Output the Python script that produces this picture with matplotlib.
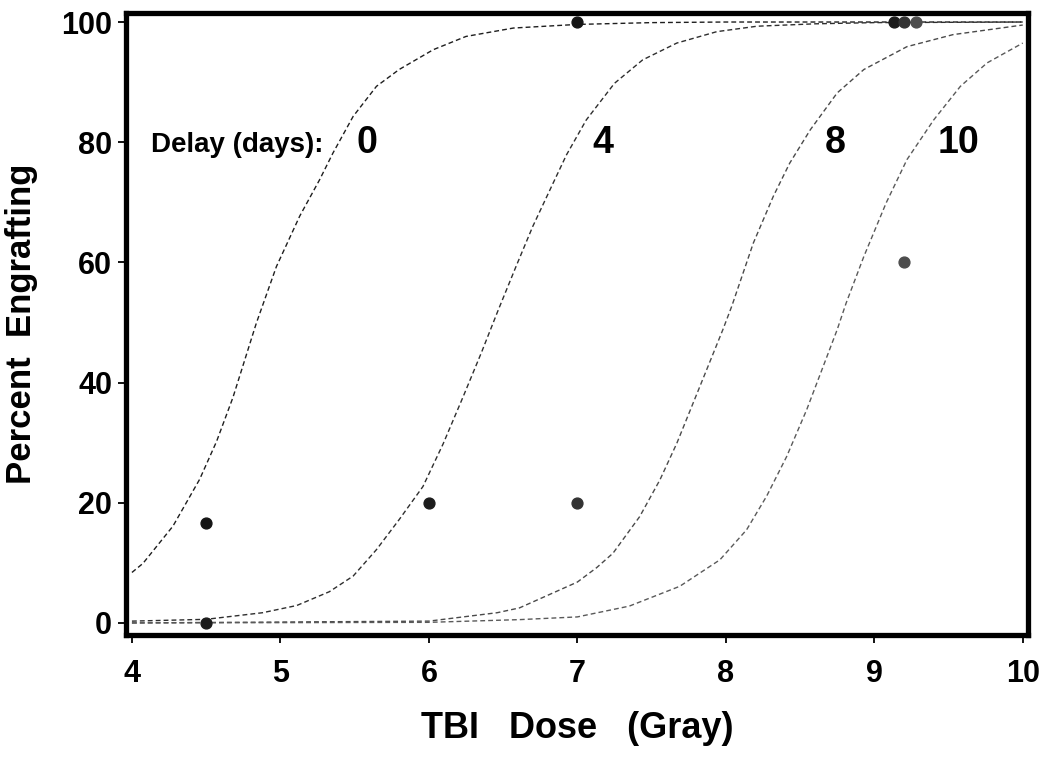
import matplotlib
matplotlib.use("Agg")
from matplotlib import pyplot as plt

plt.rcParams['font.family'] = ['Liberation Sans', 'DejaVu Sans']

# 拟合曲线，按图读出的点 (剂量, 百分比)
d0_x = [4.0, 4.074, 4.276, 4.456, 4.57, 4.68, 4.838, 4.973, 5.13, 5.265, 5.354, 5.49,
        5.647, 5.80, 6.03, 6.25, 6.57, 7.0, 7.5, 8.0, 10.0]
d0_y = [8.4, 9.9, 16.1, 23.9, 30.2, 37.5, 49.9, 59.3, 67.7, 73.8, 78.2, 84.3,
        89.3, 92.1, 95.4, 97.6, 99.0, 99.6, 99.9, 100, 100]

d4_x = [4.0, 4.5, 4.88, 5.11, 5.33, 5.49, 5.647, 5.80, 5.96, 6.096, 6.23, 6.354, 6.466,
        6.59, 6.70, 6.837, 6.927, 7.06, 7.25, 7.44, 7.67, 7.94, 8.21, 8.6, 9.0, 10.0]
d4_y = [0.3, 0.6, 1.7, 2.9, 5.2, 7.8, 12.2, 17.2, 22.7, 29.8, 37.6, 45.0, 52.0,
        59.5, 66.0, 73.2, 77.9, 83.7, 89.8, 93.7, 96.5, 98.4, 99.3, 99.7, 99.9, 100]

d8_x = [4.0, 6.0, 6.46, 6.61, 7.0, 7.13, 7.24, 7.42, 7.556, 7.67, 7.78, 7.89, 7.98,
        8.04, 8.185, 8.32, 8.43, 8.57, 8.75, 8.93, 9.22, 9.53, 10.0]
d8_y = [0.0, 0.3, 1.7, 2.5, 6.8, 9.2, 11.6, 17.7, 23.8, 29.9, 36.6, 43.3, 48.8,
        52.7, 63.2, 71.0, 76.5, 82.1, 88.2, 92.1, 95.9, 97.9, 99.5]

d10_x = [4.0, 6.0, 6.61, 7.0, 7.35, 7.69, 7.96, 8.14, 8.275, 8.41, 8.545, 8.656, 8.75,
         8.81, 8.93, 9.08, 9.22, 9.40, 9.58, 9.76, 10.0]
d10_y = [0.0, 0.1, 0.55, 1.0, 2.8, 6.1, 10.5, 15.5, 21.1, 27.7, 35.5, 42.7, 48.8,
         53.2, 61.0, 69.9, 77.1, 83.7, 89.3, 93.2, 96.5]

# 观测点
p0_x, p0_y = [4.5, 7.0], [16.7, 100]
p4_x, p4_y = [4.5, 6.0, 9.13], [0, 20, 100]
p8_x, p8_y = [7.0, 9.2], [20, 100]
p10_x, p10_y = [9.2, 9.28], [60, 100]

delays = ['0', '4', '8', '10']
label_x = [5.58, 7.17, 8.74, 9.57]

fig = plt.figure(figsize=(10.5, 7.65), dpi=100)
ax = fig.add_axes([0.12, 0.17, 0.859, 0.813])

curves = [(d0_x, d0_y, '#1e1e1e'), (d4_x, d4_y, '#2e2e2e'),
          (d8_x, d8_y, '#4a4a4a'), (d10_x, d10_y, '#5a5a5a')]
for cx, cy, c in curves:
    ln, = ax.plot(cx, cy, color=c, lw=1.0, ls='--')
    ln.set_dashes((3.5, 2.2))

pts = [(p0_x, p0_y, '#151515'), (p4_x, p4_y, '#1c1c1c'),
       (p8_x, p8_y, '#333333'), (p10_x, p10_y, '#4d4d4d')]
for px, py, c in pts:
    ax.plot(px, py, 'o', color=c, ms=7.8, zorder=5, clip_on=False)

ax.text(4.13, 78.3, 'Delay (days):', fontsize=20, fontweight='bold')
for lab, lx in zip(delays, label_x):
    ax.text(lx, 78.2, lab, fontsize=27, fontweight='bold', ha='center')

ax.set_xlim(3.96, 10.035)
ax.set_ylim(-2, 101.5)
ax.set_xticks([4, 5, 6, 7, 8, 9, 10])
ax.set_yticks([0, 20, 40, 60, 80, 100])

for s in ax.spines.values():
    s.set_linewidth(3.8)
ax.tick_params(axis='both', direction='out', length=6, width=1.3, labelsize=22)
ax.tick_params(axis='x', pad=11)
ax.tick_params(axis='y', pad=4)
for t in ax.get_xticklabels() + ax.get_yticklabels():
    t.set_fontweight('bold')

ax.set_xlabel('TBI   Dose   (Gray)', fontsize=26, fontweight='bold')
ax.set_ylabel('Percent  Engrafting', fontsize=25, fontweight='bold')
ax.xaxis.set_label_coords(0.5, -0.122)
ax.yaxis.set_label_coords(-0.098, 0.5)

fig.savefig('out.png', dpi=100)
